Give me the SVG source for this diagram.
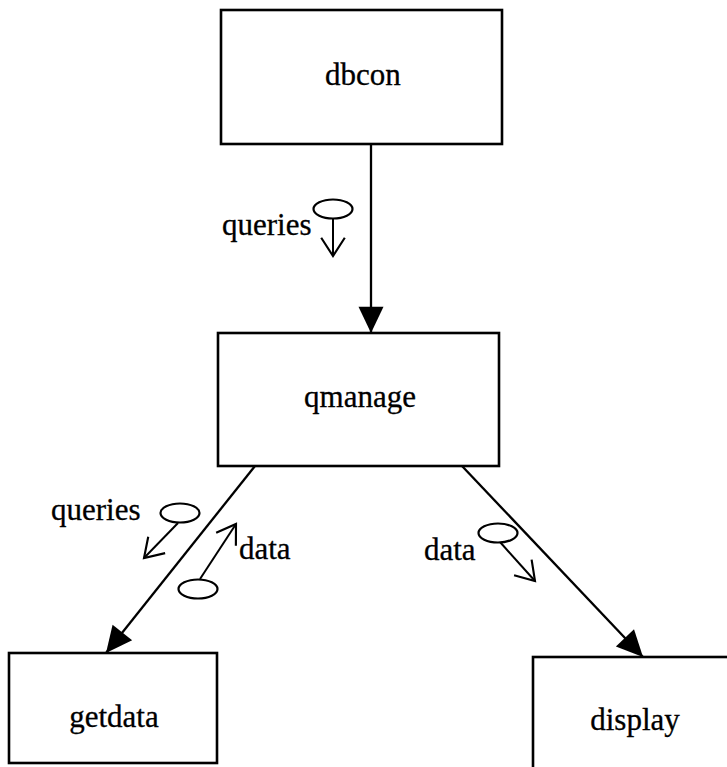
<svg xmlns="http://www.w3.org/2000/svg" width="727" height="767" viewBox="0 0 727 767">
  <style>
    .box { fill: #fff; stroke: #000; stroke-width: 2.6; }
    .label { font-family: "Liberation Serif", "Times New Roman", serif; font-size: 31px; fill: #000; stroke: #000; stroke-width: 0.3; }
    .mid { text-anchor: middle; }
    .link { fill: none; stroke: #000; stroke-width: 2.3; }
    .flow { fill: none; stroke: #000; stroke-width: 2; }
    .token { fill: #fff; stroke: #000; stroke-width: 2.2; }
  </style>
  <defs>
    <marker id="solid" markerUnits="userSpaceOnUse" markerWidth="30" markerHeight="30" viewBox="-22 -12 24 24" refX="0" refY="0" orient="auto">
      <path d="M-21,-10 L0,0 L-21,10 Z" fill="#000"/>
    </marker>
    <marker id="open" markerUnits="userSpaceOnUse" markerWidth="30" markerHeight="30" viewBox="-20 -14 22 28" refX="0" refY="0" orient="auto">
      <path d="M-17,-11 L0,0 L-17,11" fill="none" stroke="#000" stroke-width="2"/>
    </marker>
  </defs>

  <rect width="727" height="767" fill="#fff"/>

  <g id="connectors">
    <line class="link" x1="371" y1="144" x2="371" y2="333" marker-end="url(#solid)"/>
    <line class="link" x1="255" y1="466" x2="106" y2="653" marker-end="url(#solid)"/>
    <line class="link" x1="462" y1="466" x2="643" y2="657" marker-end="url(#solid)"/>
  </g>

  <g id="flows">
    <g id="flow-queries-1">
      <line class="flow" x1="333" y1="218" x2="333" y2="256" marker-end="url(#open)"/>
      <ellipse class="token" cx="333" cy="209" rx="19.5" ry="9.5"/>
      <text class="label" x="222" y="235">queries</text>
    </g>
    <g id="flow-queries-2">
      <line class="flow" x1="178" y1="523" x2="144" y2="558" marker-end="url(#open)"/>
      <ellipse class="token" cx="180" cy="513" rx="19.5" ry="9.5"/>
      <text class="label" x="51" y="520">queries</text>
    </g>
    <g id="flow-data-1">
      <line class="flow" x1="200" y1="579" x2="236" y2="524" marker-end="url(#open)"/>
      <ellipse class="token" cx="198" cy="589" rx="19.5" ry="9.5"/>
      <text class="label" x="239" y="559">data</text>
    </g>
    <g id="flow-data-2">
      <line class="flow" x1="500" y1="542" x2="535" y2="581" marker-end="url(#open)"/>
      <ellipse class="token" cx="498" cy="533" rx="19.5" ry="9.5"/>
      <text class="label" x="424" y="560">data</text>
    </g>
  </g>

  <g id="dbcon">
    <rect class="box" x="221" y="10" width="281" height="134"/>
    <text class="label mid" x="363" y="85">dbcon</text>
  </g>

  <g id="qmanage">
    <rect class="box" x="218" y="333" width="281" height="133"/>
    <text class="label mid" x="360" y="407">qmanage</text>
  </g>

  <g id="getdata">
    <rect class="box" x="9" y="653" width="208" height="110"/>
    <text class="label mid" x="114" y="727">getdata</text>
  </g>

  <g id="display">
    <rect class="box" x="533" y="657" width="210" height="120"/>
    <text class="label mid" x="635" y="730">display</text>
  </g>
</svg>
